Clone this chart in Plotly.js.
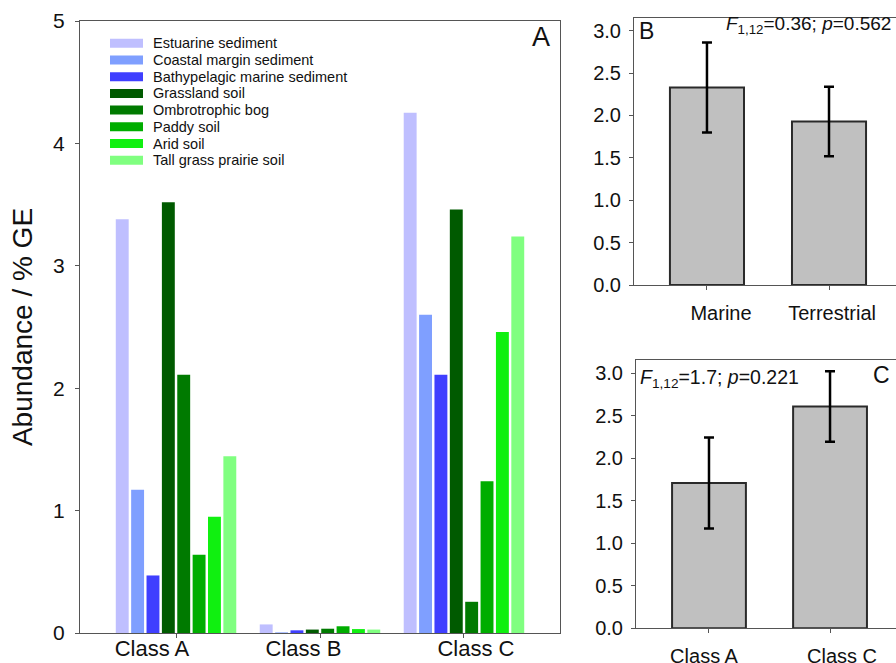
<!DOCTYPE html>
<html><head><meta charset="utf-8">
<script src="https://cdn.plot.ly/plotly-3.0.1.min.js"></script>
<style>html,body{margin:0;padding:0;background:#fff}</style>
</head><body><div id="chart" style="width:896px;height:663px"></div>
<script>
// ---- Data ----
const classes = ['Class A', 'Class B', 'Class C'];
const environmentNames = ['Estuarine sediment', 'Coastal margin sediment', 'Bathypelagic marine sediment',
  'Grassland soil', 'Ombrotrophic bog', 'Paddy soil', 'Arid soil', 'Tall grass prairie soil'];
const environmentColors = ['#bfbfff', '#7f9fff', '#3f3fff', '#005a00', '#007a00', '#00ad00', '#10f010', '#80ff80'];
const estuarineSediment = [3.38, 0.07, 4.25];
const coastalMarginSediment = [1.17, 0.005, 2.60];
const bathypelagicMarineSediment = [0.47, 0.022, 2.11];
const grasslandSoil = [3.52, 0.028, 3.46];
const ombrotrophicBog = [2.11, 0.035, 0.255];
const paddySoil = [0.64, 0.055, 1.24];
const aridSoil = [0.95, 0.032, 2.46];
const tallGrassPrairieSoil = [1.445, 0.028, 3.24];
const environmentSeries = [estuarineSediment, coastalMarginSediment, bathypelagicMarineSediment,
  grasslandSoil, ombrotrophicBog, paddySoil, aridSoil, tallGrassPrairieSoil];

const habitatGroups = ['Marine', 'Terrestrial'];
const habitatMeans = [2.33, 1.93];
const habitatErrors = [0.53, 0.41];

const classPair = ['Class A', 'Class C'];
const classPairMeans = [1.71, 2.61];
const classPairErrors = [0.535, 0.415];

const yTicksA = [0, 1, 2, 3, 4, 5];
const yTicksBC = [0, 0.5, 1, 1.5, 2, 2.5, 3];
const yTickTextBC = ['0.0', '0.5', '1.0', '1.5', '2.0', '2.5', '3.0'];

// label placement (the reference draws the category labels slightly off their tick marks)
const labelPosA = [-0.167, 0.885, 2.083];
const labelPosB = [0.115, 1.025];
const labelPosC = [-0.041, 1.099];

// ---- Layout helpers (pixel -> paper) ----
const W = 896, H = 663;
const px = x => x / W;
const py = y => (H - y) / H;
const FONT = 'Liberation Sans, Arial, sans-serif';
const AX = '#555';

const traces = environmentNames.map((name, i) => ({
  type: 'bar', name: name, x: classes, y: environmentSeries[i],
  marker: {color: environmentColors[i], line: {width: 0}},
  xaxis: 'x', yaxis: 'y', showlegend: false
}));

const barStyle = {color: '#c0c0c0', line: {color: '#2a2a2a', width: 2}};
traces.push({
  type: 'bar', name: 'Habitat', x: habitatGroups, y: habitatMeans, width: 0.607,
  error_y: {type: 'data', array: habitatErrors, visible: true, color: '#000', thickness: 2.5, width: 5},
  marker: barStyle, xaxis: 'x2', yaxis: 'y2', showlegend: false
});
traces.push({
  type: 'bar', name: 'Class', x: classPair, y: classPairMeans, width: 0.61,
  error_y: {type: 'data', array: classPairErrors, visible: true, color: '#000', thickness: 2.5, width: 5},
  marker: barStyle, xaxis: 'x3', yaxis: 'y3', showlegend: false
});
// invisible carriers so that the label axes get drawn
[['x4', 'y', labelPosA], ['x5', 'y2', labelPosB], ['x6', 'y3', labelPosC]].forEach(([xa, ya, pos]) => {
  traces.push({type: 'scatter', mode: 'markers', x: pos, y: pos.map(() => 0), xaxis: xa, yaxis: ya,
    marker: {opacity: 0, size: 1}, hoverinfo: 'skip', showlegend: false, cliponaxis: true});
});

const shapes = [];
const annotations = [];
// legend built from the names / colours arrays
environmentNames.forEach((name, i) => {
  const yc = 43.3 + i * 16.7;
  shapes.push({type: 'rect', xref: 'paper', yref: 'paper', x0: px(110), x1: px(143),
    y0: py(yc + 4.5), y1: py(yc - 4.5), fillcolor: environmentColors[i], line: {width: 0}});
  annotations.push({xref: 'paper', yref: 'paper', x: px(151), y: py(yc), xanchor: 'left', yanchor: 'middle',
    text: name, showarrow: false, font: {family: FONT, size: 14.5, color: '#111'}});
});
annotations.push({xref: 'paper', yref: 'paper', x: px(552), y: py(37), xanchor: 'right', yanchor: 'middle',
  text: 'A', showarrow: false, font: {family: FONT, size: 27, color: '#111'}});
annotations.push({xref: 'paper', yref: 'paper', x: px(637), y: py(31), xanchor: 'left', yanchor: 'middle',
  text: 'B', showarrow: false, font: {family: FONT, size: 23, color: '#111'}});
annotations.push({xref: 'paper', yref: 'paper', x: px(893), y: py(25), xanchor: 'right', yanchor: 'middle',
  text: '<i>F</i><sub>1,12</sub>=0.36; <i>p</i>=0.562', showarrow: false, font: {family: FONT, size: 19, color: '#111'}});
annotations.push({xref: 'paper', yref: 'paper', x: px(892), y: py(375), xanchor: 'right', yanchor: 'middle',
  text: 'C', showarrow: false, font: {family: FONT, size: 23, color: '#111'}});
annotations.push({xref: 'paper', yref: 'paper', x: px(638), y: py(378), xanchor: 'left', yanchor: 'middle',
  text: '<i>F</i><sub>1,12</sub>=1.7; <i>p</i>=0.221', showarrow: false, font: {family: FONT, size: 19.5, color: '#111'}});

const baseAxis = {showline: true, linecolor: AX, linewidth: 1, ticks: 'outside', ticklen: 4, tickcolor: AX,
  showgrid: false, zeroline: false, fixedrange: true};
const labelAxis = (over, anchor, range, vals, text, size, standoff) => ({
  overlaying: over, anchor: anchor, side: 'bottom', range: range, type: 'linear', tickmode: 'array',
  tickvals: vals, ticktext: text,
  showline: false, showgrid: false, zeroline: false, ticks: 'outside', ticklen: 4, tickcolor: 'rgba(0,0,0,0)',
  tickfont: {size: size}, ticklabelstandoff: standoff, fixedrange: true
});

const rangeA = [-0.667, 2.667], rangeB = [-0.598, 1.549], rangeC = [-0.603, 1.545];

const layout = {
  width: W, height: H, margin: {l: 0, r: 0, t: 0, b: 0}, paper_bgcolor: '#fff', plot_bgcolor: '#fff',
  font: {family: FONT, color: '#111'},
  barmode: 'group', bargap: 0.146, bargroupgap: 0.16, showlegend: false,
  xaxis: Object.assign({}, baseAxis, {domain: [px(80), px(560)], range: rangeA, type: 'category',
    mirror: true, showticklabels: false, anchor: 'y'}),
  yaxis: Object.assign({}, baseAxis, {domain: [py(633), py(21)], range: [0, 5], tickvals: yTicksA,
    mirror: true, tickfont: {size: 21}, ticklabelstandoff: 6, anchor: 'x',
    title: {text: 'Abundance / % GE', font: {size: 28}, standoff: 12}}),
  xaxis2: Object.assign({}, baseAxis, {domain: [px(634), 1], range: rangeB, type: 'category',
    mirror: true, showticklabels: false, anchor: 'y2'}),
  yaxis2: Object.assign({}, baseAxis, {domain: [py(285), py(18.3)], range: [0, 3.146], tickvals: yTicksBC,
    ticktext: yTickTextBC, tickfont: {size: 20}, ticklabelstandoff: 4, anchor: 'x2'}),
  xaxis3: Object.assign({}, baseAxis, {domain: [px(636), 1], range: rangeC, type: 'category',
    mirror: true, showticklabels: false, anchor: 'y3'}),
  yaxis3: Object.assign({}, baseAxis, {domain: [py(628.3), py(360)], range: [0, 3.157], tickvals: yTicksBC,
    ticktext: yTickTextBC, tickfont: {size: 20}, ticklabelstandoff: 4, anchor: 'x3'}),
  xaxis4: labelAxis('x', 'y', rangeA, labelPosA, classes, 22, -8),
  xaxis5: labelAxis('x2', 'y2', rangeB, labelPosB, habitatGroups, 20, 6),
  xaxis6: labelAxis('x3', 'y3', rangeC, labelPosC, classPair, 20, 6),
  shapes: shapes, annotations: annotations
};

Plotly.newPlot('chart', traces, layout, {displayModeBar: false, staticPlot: true});
</script></body></html>
